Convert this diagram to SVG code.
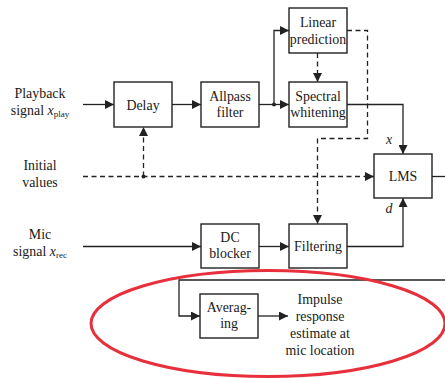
<svg xmlns="http://www.w3.org/2000/svg" width="445" height="378" viewBox="0 0 445 378">
  <style>
    .box { fill: #fff; stroke: #222; stroke-width: 1.4; }
    .t { font-family: "Liberation Serif", "Times New Roman", serif; font-size: 13.9px; fill: #1a1a1a; text-anchor: middle; }
    .w { fill: none; stroke: #222; stroke-width: 1.3; }
    .d { fill: none; stroke: #222; stroke-width: 1.3; stroke-dasharray: 5 3.5; }
    .i { font-style: italic; }
  </style>
  <defs>
    <marker id="ah" viewBox="0 0 10 10" refX="10" refY="5" markerWidth="9" markerHeight="9" markerUnits="userSpaceOnUse" orient="auto">
      <path d="M0,0 L10,5 L0,10 Z" fill="#222"/>
    </marker>
  </defs>

  <rect width="445" height="378" fill="#fff"/>

  <!-- input labels -->
  <g id="lbl-playback">
    <text class="t" x="40" y="98">Playback</text>
    <text class="t" x="40" y="115">signal <tspan class="i">x</tspan><tspan font-size="9" dy="2">play</tspan></text>
  </g>
  <g id="lbl-initial">
    <text class="t" x="40" y="170">Initial</text>
    <text class="t" x="40" y="187">values</text>
  </g>
  <g id="lbl-mic">
    <text class="t" x="40" y="239">Mic</text>
    <text class="t" x="40" y="256">signal <tspan class="i">x</tspan><tspan font-size="9" dy="2">rec</tspan></text>
  </g>

  <!-- connectors -->
  <g id="connectors">
    <line class="w" x1="83" y1="104.5" x2="114" y2="104.5" marker-end="url(#ah)"/>
    <line class="w" x1="172" y1="104.5" x2="201" y2="104.5" marker-end="url(#ah)"/>
    <line class="w" x1="259" y1="104.5" x2="289" y2="104.5" marker-end="url(#ah)"/>
    <polyline class="w" points="274,104.5 274,30.5 289,30.5" marker-end="url(#ah)"/>
    <circle cx="274" cy="104.5" r="2" fill="#222"/>
    <line class="d" x1="317.5" y1="53" x2="317.5" y2="82" marker-end="url(#ah)"/>
    <polyline class="w" points="347,104.5 403,104.5 403,154" marker-end="url(#ah)"/>
    <polyline class="d" points="347,30.5 367.5,30.5 367.5,138.5 317.5,138.5 317.5,224" marker-end="url(#ah)"/>
    <line class="d" x1="83" y1="176.5" x2="374" y2="176.5" marker-end="url(#ah)"/>
    <line class="d" x1="143.5" y1="176.5" x2="143.5" y2="127" marker-end="url(#ah)"/>
    <circle cx="143.5" cy="176.5" r="2" fill="#222"/>
    <line class="w" x1="432" y1="176.5" x2="445" y2="176.5"/>
    <line class="w" x1="83" y1="246.5" x2="201" y2="246.5" marker-end="url(#ah)"/>
    <line class="w" x1="259" y1="246.5" x2="289" y2="246.5" marker-end="url(#ah)"/>
    <polyline class="w" points="347,246.5 403,246.5 403,198" marker-end="url(#ah)"/>
    <polyline class="w" points="445,280 179,280 179,316 200,316" marker-end="url(#ah)"/>
    <line class="w" x1="258" y1="316" x2="288" y2="316" marker-end="url(#ah)"/>
  </g>

  <!-- blocks -->
  <g id="delay">
    <rect class="box" x="114" y="82" width="58" height="45"/>
    <text class="t" x="143" y="109.5">Delay</text>
  </g>
  <g id="allpass">
    <rect class="box" x="201" y="82" width="58" height="45"/>
    <text class="t" x="230" y="100.5">Allpass</text>
    <text class="t" x="230" y="116.5">filter</text>
  </g>
  <g id="linear-prediction">
    <rect class="box" x="289" y="8" width="58" height="45"/>
    <text class="t" x="318" y="27">Linear</text>
    <text class="t" x="318" y="43.5">prediction</text>
  </g>
  <g id="spectral-whitening">
    <rect class="box" x="289" y="82" width="58" height="45"/>
    <text class="t" x="318" y="100.5">Spectral</text>
    <text class="t" x="318" y="116.5">whitening</text>
  </g>
  <g id="lms">
    <rect class="box" x="374" y="154" width="58" height="44"/>
    <text class="t" x="403" y="181">LMS</text>
  </g>
  <g id="dc-blocker">
    <rect class="box" x="201" y="224" width="58" height="44"/>
    <text class="t" x="230" y="242">DC</text>
    <text class="t" x="230" y="258">blocker</text>
  </g>
  <g id="filtering">
    <rect class="box" x="289" y="224" width="58" height="44"/>
    <text class="t" x="318" y="251">Filtering</text>
  </g>
  <g id="averaging">
    <rect class="box" x="200" y="294" width="58" height="44"/>
    <text class="t" x="229" y="312">Averag-</text>
    <text class="t" x="229" y="328">ing</text>
  </g>

  <!-- signal names -->
  <text class="t i" x="389" y="144">x</text>
  <text class="t i" x="389" y="213">d</text>

  <g id="impulse-response">
    <text class="t" x="320" y="304">Impulse</text>
    <text class="t" x="320" y="321">response</text>
    <text class="t" x="320" y="338">estimate at</text>
    <text class="t" x="320" y="355">mic location</text>
  </g>

  <!-- highlight -->
  <ellipse cx="268" cy="323.5" rx="177" ry="53" fill="none" stroke="#e8303c" stroke-width="3"/>
</svg>
